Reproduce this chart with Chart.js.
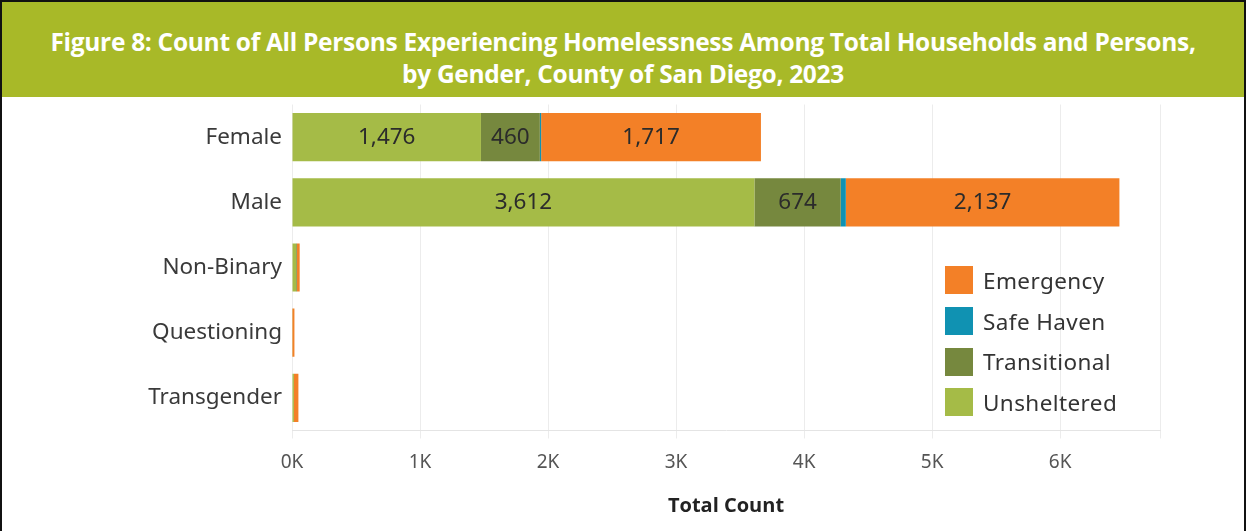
<!DOCTYPE html>
<html>
<head>
<meta charset="utf-8">
<script src="https://cdn.jsdelivr.net/npm/chart.js@4"></script>
<style>
  html, body { margin: 0; padding: 0; background: #fff; }
  #frame {
    position: relative; width: 1246px; height: 531px; box-sizing: border-box;
    border: 2px solid #111; border-bottom: none; overflow: hidden; background: #fff;
  }
  #banner {
    position: absolute; left: 0; top: 0; right: 0; height: 95px;
    background: #a8b928; color: #fff; text-align: center;
    font-family: "Open Sans", sans-serif; font-weight: 700; font-size: 24.5px; line-height: 32px;
    padding-top: 24px; box-sizing: border-box; letter-spacing: -0.3px;
  }
  #wrap { position: absolute; left: -2px; top: 95px; width: 1246px; height: 434px; }
  #legend {
    position: absolute; left: 943px; top: 258px;
    font-family: "Noto Sans", sans-serif; font-size: 22.5px; letter-spacing: 0.4px; color: #333;
  }
  #legend div { height: 40.7px; display: flex; align-items: center; }
  #legend span.sw { width: 28px; height: 28px; margin-right: 10px; display: inline-block; }
</style>
</head>
<body>
<div id="frame">
  <div id="banner">Figure 8: Count of All Persons Experiencing Homelessness Among Total Households and Persons,<br>by Gender, County of San Diego, 2023</div>
  <div id="wrap"><canvas id="genderChart" width="1246" height="434"></canvas></div>
  <div id="legend"></div>
</div>
<script>
const genders = ['Female', 'Male', 'Non-Binary', 'Questioning', 'Transgender'];
const unsheltered = [1476, 3612, 32, 3, 15];
const transitional = [460, 674, 6, 0, 0];
const safeHaven = [10, 40, 0, 0, 0];
const emergency = [1717, 2137, 22, 16, 35];
const xTicks = [0, 1000, 2000, 3000, 4000, 5000, 6000];

const series = [
    { label: 'Unsheltered', data: unsheltered, color: '#a5bb47' },
    { label: 'Transitional', data: transitional, color: '#76883e' },
    { label: 'Safe Haven', data: safeHaven, color: '#1092b2' },
    { label: 'Emergency', data: emergency, color: '#f38027' }
];

// legend lists the stack from the outer segment inwards
document.getElementById('legend').innerHTML = series.slice().reverse().map(s =>
    '<div><span class="sw" style="background:' + s.color + '"></span>' + s.label + '</div>'
).join('');

// numbers written inside the wide segments
const segmentLabels = {
    id: 'segmentLabels',
    afterDatasetsDraw(chart) {
        const ctx = chart.ctx;
        ctx.save();
        ctx.font = '22.5px "Noto Sans", sans-serif';
        ctx.fillStyle = '#2b2b2b';
        ctx.textAlign = 'center';
        ctx.textBaseline = 'middle';
        chart.data.datasets.forEach((ds, i) => {
            chart.getDatasetMeta(i).data.forEach((bar, j) => {
                const w = Math.abs(bar.x - bar.base);
                if (w < 45) return;
                ctx.fillText(ds.data[j].toLocaleString('en-US'), (bar.x + bar.base) / 2, bar.y);
            });
        });
        ctx.restore();
    }
};

new Chart(document.getElementById('genderChart'), {
    type: 'bar',
    data: {
        labels: genders,
        datasets: series.map(s => ({
            label: s.label,
            data: s.data,
            backgroundColor: s.color,
            borderWidth: 0,
            barPercentage: 0.74,
            categoryPercentage: 1
        }))
    },
    options: {
        indexAxis: 'y',
        responsive: false,
        animation: false,
        layout: { padding: { top: 7.5, right: 86, bottom: 0, left: 0 } },
        plugins: {
            legend: { display: false },
            tooltip: { enabled: false }
        },
        scales: {
            x: {
                stacked: true,
                min: 0,
                max: 6780,
                afterBuildTicks: axis => { axis.ticks = xTicks.concat([6780]).map(v => ({ value: v })); },
                afterFit: axis => { axis.height = 100.5; },
                grid: {
                    color: '#ececec',
                    tickColor: '#ececec',
                    tickLength: 8,
                    lineWidth: 1
                },
                border: { display: true, color: '#e4e4e4' },
                ticks: {
                    padding: 13,
                    color: '#555',
                    font: { family: '"Noto Sans", sans-serif', size: 19 },
                    callback: v => (v % 1000 === 0 ? (v / 1000) + 'K' : '')
                },
                title: {
                    display: true,
                    text: 'Total Count',
                    color: '#222',
                    font: { family: '"Open Sans", sans-serif', size: 20, weight: 'bold' },
                    padding: { top: 0, bottom: 13 }
                }
            },
            y: {
                stacked: true,
                afterFit: axis => {
                    axis.width = 292;
                    axis.paddingTop = 0;
                    axis.paddingBottom = 0;
                },
                grid: { display: false },
                border: { display: false },
                ticks: {
                    padding: 2,
                    color: '#3a3a3a',
                    font: { family: '"Noto Sans", sans-serif', size: 22.5 }
                }
            }
        }
    },
    plugins: [segmentLabels]
});
</script>
</body>
</html>
